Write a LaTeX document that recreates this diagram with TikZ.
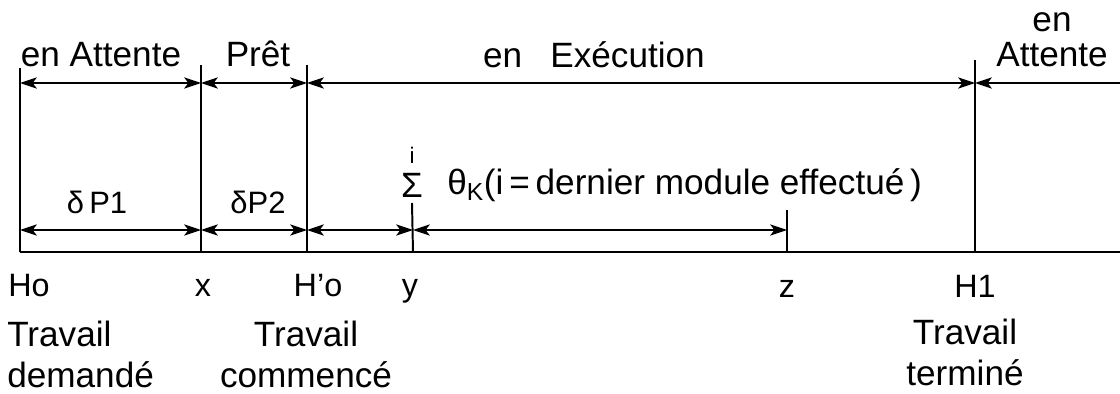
\documentclass[tikz,border=0pt]{standalone}
\usepackage{fontspec}
\setmainfont{Liberation Sans}
\usetikzlibrary{arrows.meta,positioning}

\begin{document}
\begin{tikzpicture}[
    x=0.025cm, y=-0.025cm,
    font=\fontsize{25}{28}\selectfont,
    >={Stealth[length=12pt,width=8pt,inset=3pt]},
    % Line styles
    timeline/.style={line width=2pt},
    bar/.style={line width=1.4pt},
    period/.style={<->, line width=0.9pt},
    % Text styles
    state/.style={anchor=base, inner sep=0pt},
    dur/.style={anchor=base, inner sep=0pt, font=\fontsize{22}{24}\selectfont},
    point/.style={anchor=base, inner sep=0pt, font=\fontsize{23}{26}\selectfont},
    event/.style={anchor=base, inner sep=0pt, align=center, font=\fontsize{25}{28.5}\selectfont},
]
    \useasboundingbox (0,0) rectangle (1120,394);

    % Time points and their bars
    \foreach \n/\xx/\t in {ho/20/68, x/201/65, hpo/307/65, z/787/210, h1/975/60} {
        \coordinate (\n) at (\xx,252);
        \coordinate (\n-top) at (\xx,\t);
        \coordinate (\n-up) at (\xx,83);
        \coordinate (\n-lo) at (\xx,230);
        \draw[bar] (\n-top) -- (\n);
    }
    \coordinate (y) at (413,252);
    \coordinate (y-lo) at (413,230);
    \coordinate (end) at (1120,252);
    \coordinate (end-up) at (1120,83);

    % Sum over the modules
    \node[inner sep=0pt] (sum) at (412,185) {Σ};
    \node[above=6pt of sum, inner sep=0pt, font=\fontsize{16}{16}\selectfont] (sumi) {i};
    \draw[bar] ([yshift=-4pt]sum.south) -- (y);

    % Time axis
    \draw[timeline] (ho) -- (end);

    % States
    \draw[period] (ho-up) -- (x-up);
    \draw[period] (x-up) -- (hpo-up);
    \draw[period] (hpo-up) -- (h1-up);
    \draw[period, <-] (h1-up) -- (end-up);

    % Durations
    \draw[period] (ho-lo) -- (x-lo);
    \draw[period] (x-lo) -- (hpo-lo);
    \draw[period] (hpo-lo) -- (y-lo);
    \draw[period] (y-lo) -- (z-lo);

    % State labels
    \node[state] (wait1) at (101,67) {en Attente};
    \node[state] (ready) at (258,67) {Prêt};
    \node[state] (run) at (594,68) {en\hspace{0.8em}Exécution};
    \node[state, align=center, font=\fontsize{25}{25}\selectfont] (wait2) at (1052,67) {en\\Attente};

    % Duration labels
    \node[dur] (dp1) at (97,213) {δ\,P1};
    \node[dur] (dp2) at (258,213) {δP2};
    \node[state, anchor=base west] (theta) at (447,195) {θ\textsubscript{K}(i\,=\,dernier module effectué\,)};

    % Point labels
    \node[point] (lho) at (29,296) {Ho};
    \node[point] (lx) at (203,296) {x};
    \node[point] (lhpo) at (318,296) {H’o};
    \node[point] (ly) at (410,296) {y};
    \node[point] (lz) at (787,297) {z};
    \node[point] (lh1) at (975,297) {H1};

    % Events
    \node[event, anchor=base west, align=left] (req) at (7,387) {Travail\\demandé};
    \node[event] (start) at (306,387) {Travail\\commencé};
    \node[event] (done) at (965,385) {Travail\\terminé};

\end{tikzpicture}
\end{document}
